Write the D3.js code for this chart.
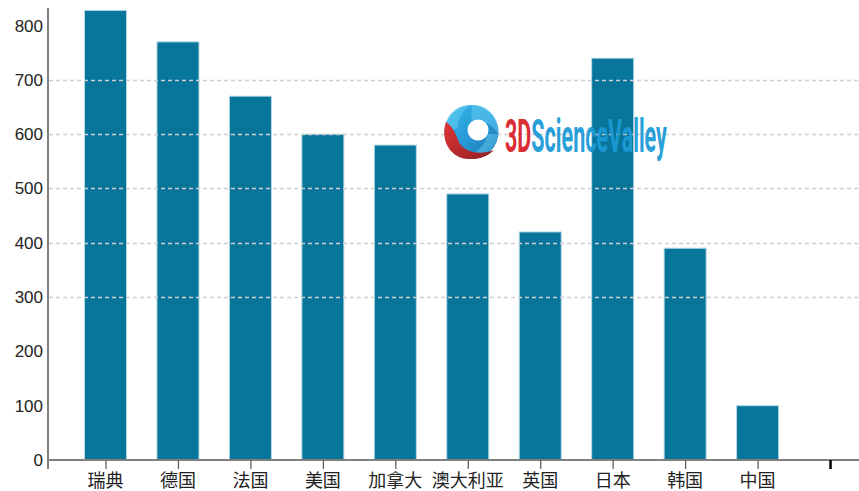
<!DOCTYPE html>
<html>
<head>
<meta charset="utf-8">
<script src="https://cdn.jsdelivr.net/npm/d3@7"></script>
<style>
  html, body { margin: 0; padding: 0; background: #fff; }
  svg { display: block; }
</style>
</head>
<body>
<svg id="chart" width="859" height="491"></svg>
<script>
// Countries shown along the x axis (an unlabeled slot closes the axis)
const categories = ["瑞典", "德国", "法国", "美国", "加拿大", "澳大利亚", "英国", "日本", "韩国", "中国"];
// Bar heights per country
const values = [828, 770, 670, 600, 580, 490, 420, 740, 390, 100];
// Y axis tick labels and dashed grid levels
const yTicks = [0, 100, 200, 300, 400, 500, 600, 700, 800];
const gridLevels = [300, 400, 500, 600, 700];
const yMax = 830;

const svg = d3.select("#chart");
const W = 859;
const axisX = 48, axisY = 460;

const slots = categories.concat([""]);
const x = d3.scaleBand()
  .domain(slots)
  .range([69.3, 69.3 + slots.length * 72.45])
  .paddingInner(0.42)
  .paddingOuter(0.21);

const y = d3.scaleLinear().domain([0, yMax]).range([axisY, 9.3]);

const data = categories.map((c, i) => ({ name: c, value: values[i] }));

// Bars
svg.append("g")
  .selectAll("rect")
  .data(data)
  .join("rect")
  .attr("x", d => x(d.name))
  .attr("y", d => y(d.value))
  .attr("width", x.bandwidth())
  .attr("height", d => y(0) - y(d.value))
  .attr("fill", "#08769b")
  .attr("stroke", "#b3d8e6")
  .attr("stroke-width", 1);

// Dashed grid lines, drawn over the bars
svg.append("g")
  .selectAll("line")
  .data(gridLevels)
  .join("line")
  .attr("x1", axisX + 1)
  .attr("x2", W)
  .attr("y1", d => Math.round(y(d)) + 0.5)
  .attr("y2", d => Math.round(y(d)) + 0.5)
  .attr("stroke", "#cfcfcf")
  .attr("stroke-width", 1.5)
  .attr("stroke-dasharray", "4,3");

// Logo watermark
const logo = svg.append("g").attr("opacity", 0.95);
const defs = svg.append("defs");
const blueGrad = defs.append("linearGradient")
  .attr("id", "logoBlue").attr("x1", "0").attr("y1", "0").attr("x2", "1").attr("y2", "1");
blueGrad.append("stop").attr("offset", "0").attr("stop-color", "#2bb6ec");
blueGrad.append("stop").attr("offset", "0.6").attr("stop-color", "#1a8fd0");
blueGrad.append("stop").attr("offset", "1").attr("stop-color", "#0b5c9e");
const redGrad = defs.append("linearGradient")
  .attr("id", "logoRed").attr("x1", "0").attr("y1", "0").attr("x2", "1").attr("y2", "1");
redGrad.append("stop").attr("offset", "0").attr("stop-color", "#e02a2a");
redGrad.append("stop").attr("offset", "1").attr("stop-color", "#8c1418");

const cx = 471.5, cy = 132, R = 27;
logo.append("circle").attr("cx", cx).attr("cy", cy).attr("r", R).attr("fill", "url(#logoBlue)");
// swirl blades
const blades = [
  "M471.5,105 C488,104 500,118 498,134 C490,122 480,118 471.5,121 Z",
  "M498,134 C496,150 482,160 466,158 C478,152 486,144 487,134 Z",
  "M444.5,132 C444,116 456,104 471.5,105 C463,110 458,118 458,128 Z"
];
logo.selectAll("path.blade").data(blades).join("path")
  .attr("class", "blade").attr("d", d => d)
  .attr("fill", "#5fcdf4").attr("opacity", 0.5);
// red crescent
logo.append("path")
  .attr("d", "M446,122 C440,140 450,158 468,159 C486,160 494,150 494,150 C480,156 462,152 458,140 C455,132 452,126 446,122 Z")
  .attr("fill", "url(#logoRed)");
logo.append("circle").attr("cx", 478).attr("cy", 130).attr("r", 10.5).attr("fill", "#fff");

// Wordmark: one text, squeezed horizontally to a 162px run
const wordmark = logo.append("g");
const word = wordmark.append("text")
  .attr("x", 0).attr("y", 0)
  .attr("font-family", "Liberation Sans Narrow, Roboto, Liberation Sans, sans-serif")
  .attr("font-weight", "bold")
  .attr("font-size", 47);
word.append("tspan").attr("fill", "#d8232a").text("3D");
word.append("tspan").attr("fill", "#1c9ad6").text("ScienceValley");
const natural = word.node().getComputedTextLength();
wordmark.attr("transform", `translate(505,152) scale(${162 / natural},1)`);

// Axis lines
svg.append("line")
  .attr("x1", axisX).attr("x2", axisX)
  .attr("y1", 8).attr("y2", 469)
  .attr("stroke", "#808080").attr("stroke-width", 2);
svg.append("line")
  .attr("x1", axisX).attr("x2", W)
  .attr("y1", axisY).attr("y2", axisY)
  .attr("stroke", "#808080").attr("stroke-width", 2);

// X axis ticks and labels
const xAxis = svg.append("g")
  .attr("transform", `translate(0,${axisY})`)
  .call(d3.axisBottom(x).tickSize(9).tickSizeOuter(0).tickPadding(4));
xAxis.select(".domain").remove();
xAxis.selectAll(".tick line")
  .attr("stroke", (d) => d === "" ? "#000" : "#555")
  .attr("stroke-width", (d) => d === "" ? 2.5 : 1.2)
  .attr("transform", "translate(0.5,0)");
xAxis.selectAll(".tick text")
  .attr("y", 27)
  .attr("dy", null)
  .attr("fill", "#222")
  .attr("font-size", 18)
  .attr("font-family", "Noto Sans CJK SC, sans-serif");

// Y axis labels
const yAxis = svg.append("g")
  .attr("transform", `translate(${axisX},0)`)
  .call(d3.axisLeft(y).tickValues(yTicks).tickSize(0).tickPadding(5));
yAxis.select(".domain").remove();
yAxis.selectAll(".tick text")
  .attr("fill", "#222")
  .attr("font-size", 17)
  .attr("font-family", "Liberation Sans, Arial, sans-serif");
</script>
</body>
</html>
